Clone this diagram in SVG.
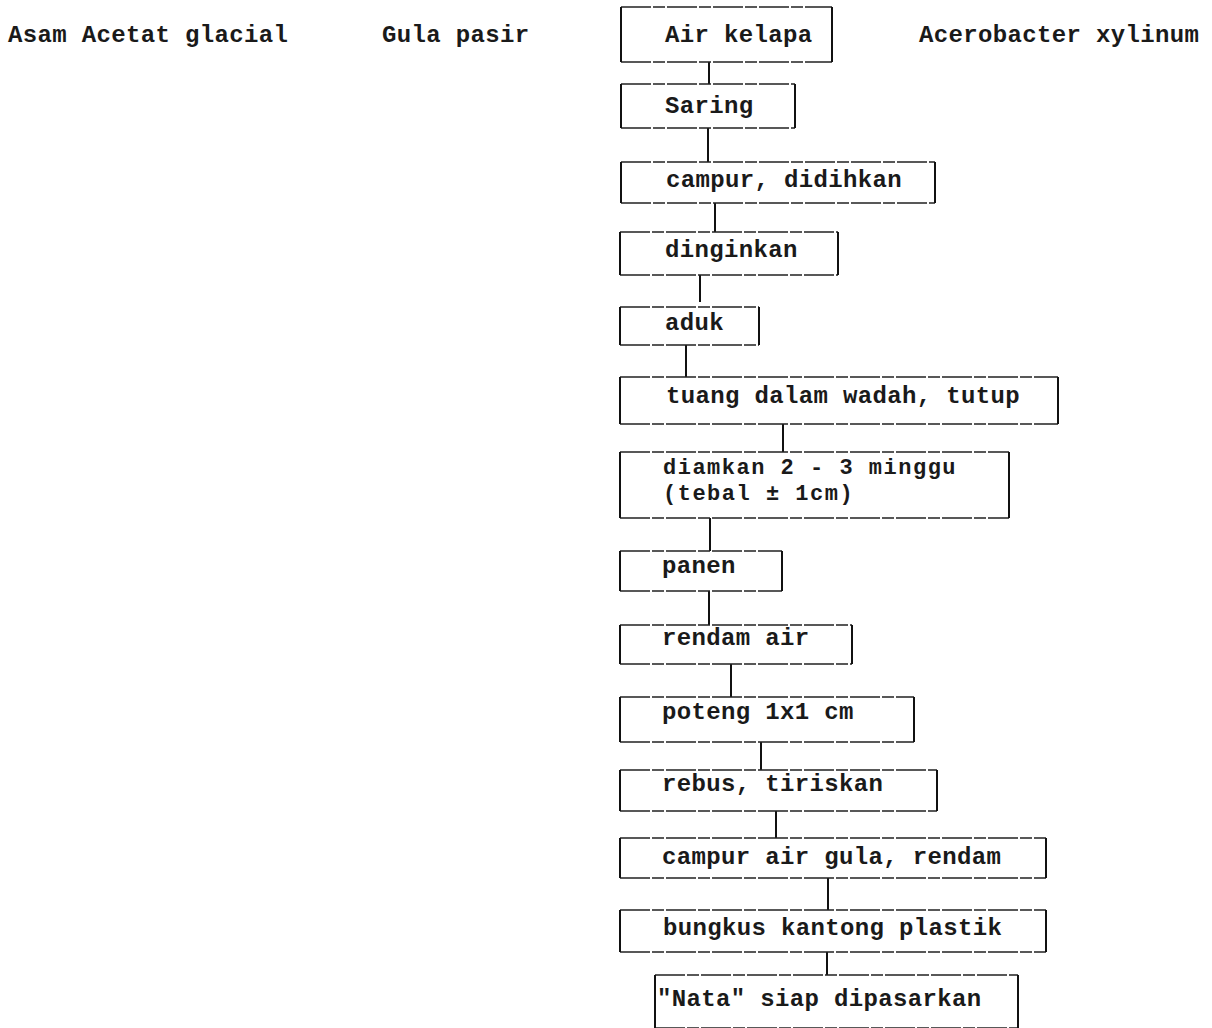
<svg xmlns="http://www.w3.org/2000/svg" width="1212" height="1028" viewBox="0 0 1212 1028">
<style>
text{font-family:"Liberation Mono","Courier New",monospace;font-size:24px;font-weight:bold;letter-spacing:0.35px;fill:#1a1a1a;}
.t2{font-size:22px;letter-spacing:1.5px;}
.h{stroke:#222;stroke-width:1.4;fill:none;stroke-dasharray:30 2 12 2;}
.v{stroke:#111;stroke-width:2;fill:none;}
.c{stroke:#111;stroke-width:2;fill:none;}
</style>
<rect width="1212" height="1028" fill="#fff"/>
<g id="inputs">
<text x="8" y="42">Asam Acetat glacial</text>
<text x="382" y="42">Gula pasir</text>
<text x="919" y="42">Acerobacter xylinum</text>
</g>
<g id="connectors">
<path class="c" d="M709 62V84M708 128V162M715 203V232M700 275V302M686 345V377M783 424V452M710 518V551M709 591V625M731 664V697M761 742V770M776 811V838M828 878V910M827 952V975"/>
</g>
<g id="n1"><path class="h" d="M621 7H832M621 62H832"/><path class="v" d="M621 7V62M832 7V62"/><text x="665" y="42">Air kelapa</text></g>
<g id="n2"><path class="h" d="M621 84H795M621 128H795"/><path class="v" d="M621 84V128M795 84V128"/><text x="665" y="113">Saring</text></g>
<g id="n3"><path class="h" d="M621 162H935M621 203H935"/><path class="v" d="M621 162V203M935 162V203"/><text x="666" y="187">campur, didihkan</text></g>
<g id="n4"><path class="h" d="M620 232H838M620 275H838"/><path class="v" d="M620 232V275M838 232V275"/><text x="665" y="257">dinginkan</text></g>
<g id="n5"><path class="h" d="M620 307H759M620 345H759"/><path class="v" d="M620 307V345M759 307V345"/><text x="665" y="330">aduk</text></g>
<g id="n6"><path class="h" d="M620 377H1058M620 424H1058"/><path class="v" d="M620 377V424M1058 377V424"/><text x="666" y="403">tuang dalam wadah, tutup</text></g>
<g id="n7"><path class="h" d="M620 452H1009M620 518H1009"/><path class="v" d="M620 452V518M1009 452V518"/><text class="t2" x="663" y="474">diamkan 2 - 3 minggu</text><text class="t2" x="663" y="500">(tebal ± 1cm)</text></g>
<g id="n8"><path class="h" d="M620 551H782M620 591H782"/><path class="v" d="M620 551V591M782 551V591"/><text x="662" y="573">panen</text></g>
<g id="n9"><path class="h" d="M620 625H852M620 664H852"/><path class="v" d="M620 625V664M852 625V664"/><text x="662" y="645">rendam air</text></g>
<g id="n10"><path class="h" d="M620 697H914M620 742H914"/><path class="v" d="M620 697V742M914 697V742"/><text x="662" y="719">poteng 1x1 cm</text></g>
<g id="n11"><path class="h" d="M620 770H937M620 811H937"/><path class="v" d="M620 770V811M937 770V811"/><text x="662" y="791">rebus, tiriskan</text></g>
<g id="n12"><path class="h" d="M620 838H1046M620 878H1046"/><path class="v" d="M620 838V878M1046 838V878"/><text x="662" y="864">campur air gula, rendam</text></g>
<g id="n13"><path class="h" d="M620 910H1046M620 952H1046"/><path class="v" d="M620 910V952M1046 910V952"/><text x="663" y="935">bungkus kantong plastik</text></g>
<g id="n14"><path class="h" d="M655 975H1018M655 1028H1018"/><path class="v" d="M655 975V1028M1018 975V1028"/><text x="657" y="1006">"Nata" siap dipasarkan</text></g>
</svg>
